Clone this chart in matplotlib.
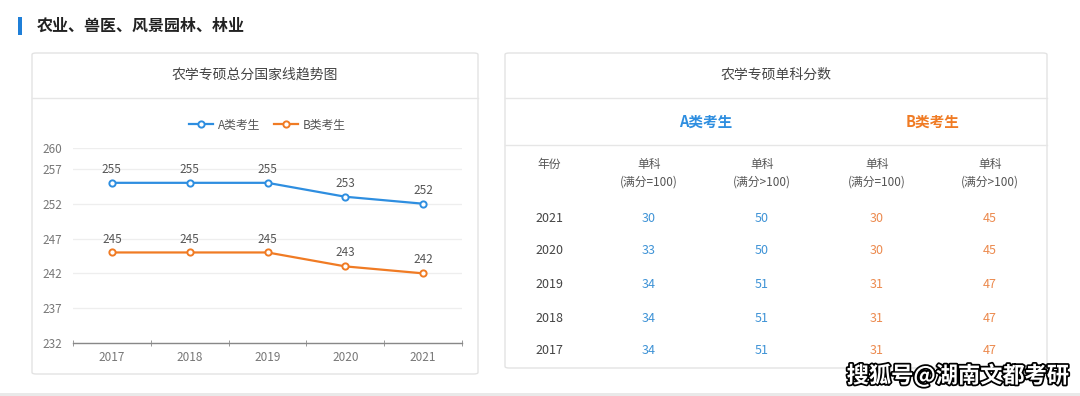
import matplotlib
matplotlib.use("Agg")
import matplotlib.pyplot as plt
from matplotlib.patches import FancyBboxPatch, Rectangle
import matplotlib.patheffects as pe

plt.rcParams['font.family'] = ['Noto Sans CJK SC', 'DejaVu Sans']

# ---- data ----
years = ["2017", "2018", "2019", "2020", "2021"]
a_total = [255, 255, 255, 253, 252]
b_total = [245, 245, 245, 243, 242]
y_ticks = [232, 237, 242, 247, 252, 257, 260]

table_years = ["2021", "2020", "2019", "2018", "2017"]
a_single100 = [30, 33, 34, 34, 34]
a_single_gt100 = [50, 50, 51, 51, 51]
b_single100 = [30, 30, 31, 31, 31]
b_single_gt100 = [45, 45, 47, 47, 47]

section_title = "农业、兽医、风景园林、林业"
chart_title = "农学专硕总分国家线趋势图"
table_title = "农学专硕单科分数"
series_names = ["A类考生", "B类考生"]
col_headers = ["年份", "单科\n(满分=100)", "单科\n(满分>100)", "单科\n(满分=100)", "单科\n(满分>100)"]

BLUE = "#2e8ee0"
ORANGE = "#f07b24"
TBLUE = "#3f93d6"
TORANGE = "#ec8a4e"
GREY_TXT = "#555555"

W, H = 1080, 396
fig = plt.figure(figsize=(W / 100, H / 100), dpi=100)
fig.patch.set_facecolor("white")

def fx(x):
    return x / W

def fy(y):
    return (H - y) / H

def box(x0, y0, x1, y1, ec="#e3e3e3", fc="white"):
    p = FancyBboxPatch((fx(x0), fy(y1)), fx(x1 - x0), (y1 - y0) / H,
                       boxstyle="round,pad=0,rounding_size=0.004",
                       transform=fig.transFigure, ec=ec, fc=fc, lw=1.0, zorder=-5)
    fig.patches.append(p)

def hline(x0, x1, y, c="#e6e6e6", lw=1.0):
    fig.add_artist(plt.Line2D([fx(x0), fx(x1)], [fy(y), fy(y)], color=c, lw=lw,
                              transform=fig.transFigure, zorder=-4))

def txt(x, y, s, **kw):
    return fig.text(fx(x), fy(y), s, **kw)

# bottom grey strip
fig.patches.append(Rectangle((0, 0), 1, 3 / H, transform=fig.transFigure,
                             fc="#e9e9e9", ec="none", zorder=-5))

# section header
fig.patches.append(Rectangle((fx(18), fy(35)), fx(4), 18 / H, transform=fig.transFigure,
                             fc="#1f7fd8", ec="none", zorder=-5))
txt(37, 26, section_title, fontsize=11.5, fontweight="bold", color="#222222",
    ha="left", va="center")

# left panel
box(32, 53, 478, 374)
hline(32, 478, 98)
txt(255, 75, chart_title, fontsize=10, color="#444444", ha="center", va="center")

# line chart axes
ax = fig.add_axes([fx(73), fy(343), fx(462 - 73), (343 - 148) / H])
ax.set_zorder(2)
ax.set_facecolor("none")
x = list(range(len(years)))
la, = ax.plot(x, a_total, color=BLUE, lw=1.6, marker="o", ms=4.5,
              mfc="white", mec=BLUE, mew=1.4, zorder=3)
lb, = ax.plot(x, b_total, color=ORANGE, lw=1.6, marker="o", ms=4.5,
              mfc="white", mec=ORANGE, mew=1.4, zorder=3)
for xi, v in zip(x, a_total):
    ax.annotate(str(v), (xi, v), xytext=(0, 5), textcoords="offset points",
                ha="center", va="bottom", fontsize=8.5, color="#555555")
for xi, v in zip(x, b_total):
    ax.annotate(str(v), (xi, v), xytext=(0, 5), textcoords="offset points",
                ha="center", va="bottom", fontsize=8.5, color="#555555")
ax.set_xlim(-0.5, len(years) - 0.5)
ax.set_ylim(y_ticks[0], y_ticks[-1])
ax.set_yticks(y_ticks)
ax.set_yticklabels([str(t) for t in y_ticks])
ax.set_xticks(x)
ax.set_xticklabels(years)
ax.set_xticks([i - 0.5 for i in range(len(years) + 1)], minor=True)
ax.tick_params(axis="x", which="major", length=0, labelsize=8.5, colors="#777777", pad=6)
ax.tick_params(axis="x", which="minor", length=4, color="#888888", direction="inout")
ax.tick_params(axis="y", length=0, labelsize=8.5, colors="#777777", pad=8)
ax.grid(axis="y", color="#eeeeee", lw=0.9)
for s in ["top", "right", "left"]:
    ax.spines[s].set_visible(False)
ax.spines["bottom"].set_color("#888888")
ax.spines["bottom"].set_linewidth(1.0)
ax.set_axisbelow(True)
ax.legend([la, lb], series_names, loc="lower center", bbox_to_anchor=(0.5, 1.06),
          ncol=2, frameon=False, fontsize=8.5, handlelength=2.0, handletextpad=0.4,
          columnspacing=1.2, labelcolor="#555555", borderaxespad=0)

# right panel (table)
box(505, 53, 1047, 368)
hline(505, 1047, 98)
hline(505, 1047, 145)
txt(776, 75, table_title, fontsize=10, color="#444444", ha="center", va="center")
txt(706, 122, series_names[0], fontsize=10.5, fontweight="bold", color=BLUE,
    ha="center", va="center")
txt(933, 122, series_names[1], fontsize=10.5, fontweight="bold", color=ORANGE,
    ha="center", va="center")

col_x = [549, 649, 762, 877, 990]
for cx, h in zip(col_x, col_headers):
    txt(cx, 164 if h == "年份" else 173, h, fontsize=8.5, color=GREY_TXT,
        ha="center", va="center", linespacing=1.45)

row_y = [218, 251, 285, 318, 351]
for i, ry in enumerate(row_y):
    vals = [table_years[i], a_single100[i], a_single_gt100[i], b_single100[i], b_single_gt100[i]]
    cols = ["#444444", TBLUE, TBLUE, TORANGE, TORANGE]
    for cx, v, c in zip(col_x, vals, cols):
        txt(cx, ry, str(v), fontsize=9, color=c, ha="center", va="center")

# watermark
t = fig.text(fx(958), fy(376), "搜狐号@湖南文都考研", fontsize=16, color="white",
             ha="center", va="center", fontweight="bold")
t.set_path_effects([pe.withStroke(linewidth=2.5, foreground="black")])

fig.savefig("out.png", dpi=100, facecolor=fig.get_facecolor())
